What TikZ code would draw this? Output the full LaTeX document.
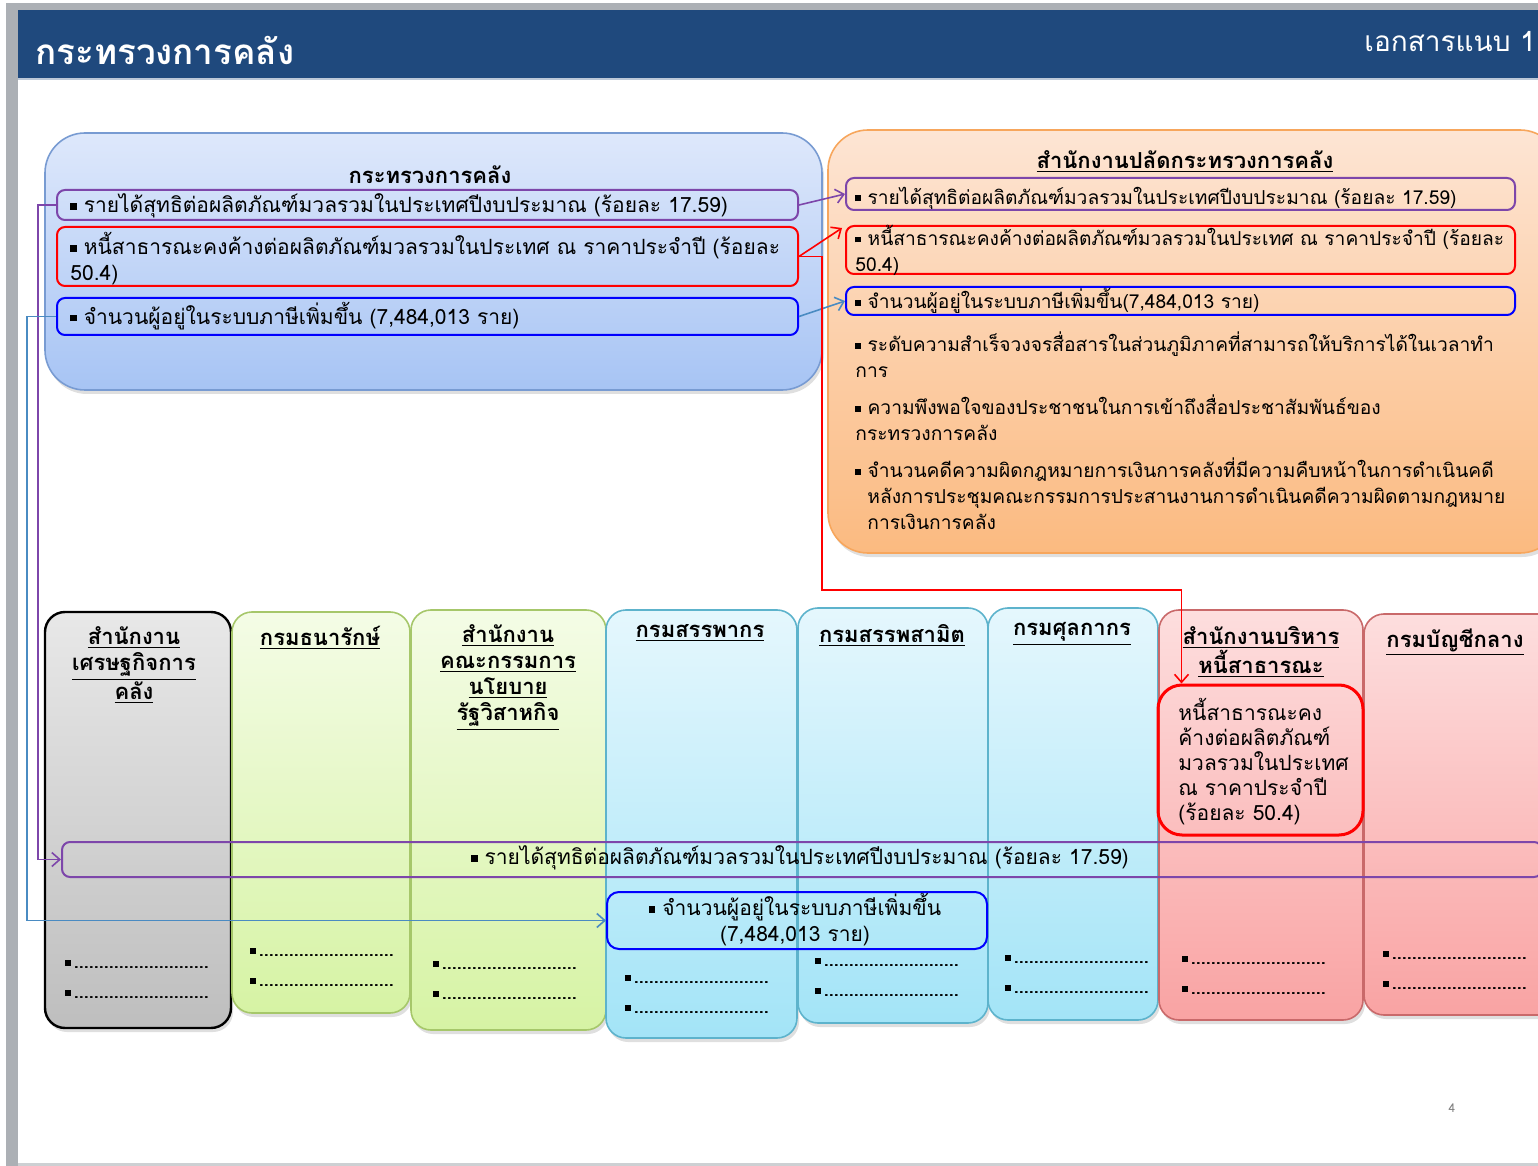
\documentclass[tikz,border=0pt]{standalone}
\usepackage{fontspec}
\setmainfont{Loma}[Script=Thai]
\usepackage{tikz}
\usetikzlibrary{positioning}
\usetikzlibrary{fit}
\usetikzlibrary{calc}
\usetikzlibrary{shadows}
\usetikzlibrary{arrows.meta}

\definecolor{hdrblue}{RGB}{31,73,125}
\definecolor{edgegrey}{RGB}{172,176,181}
\definecolor{purp}{RGB}{125,70,170}
\definecolor{linkblue}{RGB}{74,139,194}
\definecolor{mofborder}{RGB}{120,155,210}
\definecolor{moftop}{RGB}{222,232,251}
\definecolor{mofbot}{RGB}{167,196,244}
\definecolor{opsborder}{RGB}{247,166,92}
\definecolor{opstop}{RGB}{253,229,212}
\definecolor{opsbot}{RGB}{251,186,128}
\definecolor{greytop}{RGB}{232,232,232}
\definecolor{greybot}{RGB}{190,190,190}
\definecolor{greentop}{RGB}{244,252,230}
\definecolor{greenbot}{RGB}{214,243,164}
\definecolor{greenborder}{RGB}{166,199,106}
\definecolor{cyantop}{RGB}{229,247,253}
\definecolor{cyanbot}{RGB}{163,228,247}
\definecolor{cyanborder}{RGB}{93,179,204}
\definecolor{pinktop}{RGB}{253,222,222}
\definecolor{pinkbot}{RGB}{249,163,163}
\definecolor{pinkborder}{RGB}{201,105,106}

\tikzset{panel/.style = {inner sep=0, rounded corners=20pt, line width=0.8pt,
                         drop shadow={opacity=0.25, shadow xshift=1pt, shadow yshift=-2pt}}}
\tikzset{column/.style = {inner sep=0, rounded corners=10pt, line width=0.8pt,
                          drop shadow={opacity=0.25, shadow xshift=1pt, shadow yshift=-2pt}}}
\tikzset{item/.style = {inner sep=0, rounded corners=4pt, line width=1pt}}
\tikzset{txt/.style = {anchor=west, inner sep=0, align=left,
                       font=\fontsize{10.5}{13}\selectfont}}
\tikzset{optxt/.style = {txt, font=\fontsize{9.6}{13}\selectfont}}
\tikzset{head/.style = {anchor=north, inner sep=0, align=center,
                        font=\bfseries\fontsize{11}{13}\selectfont}}
\tikzset{dots/.style = {anchor=north west, inner sep=0, align=left,
                        font=\bfseries\fontsize{9}{15}\selectfont}}
\tikzset{link/.style = {line width=0.8pt, -{Straight Barb[length=4pt, width=7pt]}}}

\newcommand{\sqbul}{\rule[0.15em]{0.3em}{0.3em}}
\newcommand{\dotrow}{\sqbul\,...........................}

\begin{document}
\begin{tikzpicture}[x=0.5pt, y=-0.5pt]
  \useasboundingbox (0,0) rectangle (1538,1166);

  % page frame and title bar
  \fill[edgegrey] (6,3) rectangle (1538,10);
  \fill[edgegrey] (6,3) rectangle (18,1166);
  \fill[edgegrey!60] (18,1163) rectangle (1538,1166);
  \fill[hdrblue] (18,10) rectangle (1538,78);
  \fill[hdrblue!30] (18,78) rectangle (1538,80);
  \node [anchor=west, inner sep=0, text=white, font=\bfseries\fontsize{17.5}{17.5}\selectfont]
        (title) at (35,50) {กระทรวงการคลัง};
  \node [anchor=east, inner sep=0, text=white, font=\fontsize{14}{14}\selectfont]
        (annex) at (1536,42) {เอกสารแนบ 1};

  % ministry panel
  \node [panel, draw=mofborder, top color=moftop, bottom color=mofbot,
         fit={(45,133) (822,390)}] (mof) {};
  \node [head] (mofhead) at (430,165) {กระทรวงการคลัง};
  \node [item, draw=purp, fit={(57,190) (798,220)}] (lp) {};
  \node [txt] at (70,206) {\sqbul\ รายได้สุทธิต่อผลิตภัณฑ์มวลรวมในประเทศปีงบประมาณ (ร้อยละ 17.59)};
  \node [item, draw=red, fit={(57,227) (798,286)}] (lr) {};
  \node [txt] at (70,259) {\sqbul\ หนี้สาธารณะคงค้างต่อผลิตภัณฑ์มวลรวมในประเทศ ณ ราคาประจำปี (ร้อยละ\\50.4)};
  \node [item, draw=blue, fit={(57,298) (798,335)}] (lb) {};
  \node [txt] at (70,316) {\sqbul\ จำนวนผู้อยู่ในระบบภาษีเพิ่มขึ้น (7,484,013 ราย)};

  % permanent secretary panel
  \node [panel, draw=opsborder, top color=opstop, bottom color=opsbot,
         fit={(828,130) (1560,553)}] (ops) {};
  \node [head] (opshead) at (1185,150) {\underline{สำนักงานปลัดกระทรวงการคลัง}};
  \node [item, draw=purp, fit={(846,178) (1515,210)}] (rp) {};
  \node [optxt] at (855,198) {\sqbul\ รายได้สุทธิต่อผลิตภัณฑ์มวลรวมในประเทศปีงบประมาณ (ร้อยละ 17.59)};
  \node [item, draw=red, fit={(846,226) (1515,274)}] (rr) {};
  \node [optxt] at (855,250) {\sqbul\ หนี้สาธารณะคงค้างต่อผลิตภัณฑ์มวลรวมในประเทศ ณ ราคาประจำปี (ร้อยละ\\50.4)};
  \node [item, draw=blue, fit={(846,287) (1515,315)}] (rb) {};
  \node [optxt] at (855,301) {\sqbul\ จำนวนผู้อยู่ในระบบภาษีเพิ่มขึ้น(7,484,013 ราย)};
  \node [optxt] (kpi4) at (855,355) {\sqbul\ ระดับความสำเร็จวงจรสื่อสารในส่วนภูมิภาคที่สามารถให้บริการได้ในเวลาทำ\\การ};
  \node [optxt] (kpi5) at (855,418) {\sqbul\ ความพึงพอใจของประชาชนในการเข้าถึงสื่อประชาสัมพันธ์ของ\\กระทรวงการคลัง};
  \node [optxt] (kpi6) at (855,494) {\sqbul\ จำนวนคดีความผิดกฎหมายการเงินการคลังที่มีความคืบหน้าในการดำเนินคดี\\
        \hspace{6pt}หลังการประชุมคณะกรรมการประสานงานการดำเนินคดีความผิดตามกฎหมาย\\
        \hspace{6pt}การเงินการคลัง};

  % departments
  \node [column, draw=black, line width=1.2pt, top color=greytop, bottom color=greybot,
         fit={(45,612) (231,1028)}] (c1) {};
  \node [column, draw=greenborder, top color=greentop, bottom color=greenbot,
         fit={(232,612) (410,1013)}] (c2) {};
  \node [column, draw=greenborder, top color=greentop, bottom color=greenbot,
         fit={(411,610) (606,1030)}] (c3) {};
  \node [column, draw=cyanborder, top color=cyantop, bottom color=cyanbot,
         fit={(606,610) (797,1038)}] (c4) {};
  \node [column, draw=cyanborder, top color=cyantop, bottom color=cyanbot,
         fit={(798,608) (988,1023)}] (c5) {};
  \node [column, draw=cyanborder, top color=cyantop, bottom color=cyanbot,
         fit={(988,608) (1158,1020)}] (c6) {};
  \node [column, draw=pinkborder, top color=pinktop, bottom color=pinkbot,
         fit={(1159,610) (1363,1020)}] (c7) {};
  \node [column, draw=pinkborder, top color=pinktop, bottom color=pinkbot,
         fit={(1364,614) (1560,1015)}] (c8) {};

  \node [head] at (134,626) {\underline{สำนักงาน}\\\underline{เศรษฐกิจการ}\\\underline{คลัง}};
  \node [head] at (320,626) {\underline{กรมธนารักษ์}};
  \node [head] at (508,624) {\underline{สำนักงาน}\\\underline{คณะกรรมการ}\\\underline{นโยบาย}\\\underline{รัฐวิสาหกิจ}};
  \node [head] at (700,624) {\underline{กรมสรรพากร}};
  \node [head] at (892,624) {\underline{กรมสรรพสามิต}};
  \node [head] at (1072,622) {\underline{กรมศุลกากร}};
  \node [head] at (1261,626) {\underline{สำนักงานบริหาร}\\\underline{หนี้สาธารณะ}};
  \node [head] at (1455,628) {\underline{กรมบัญชีกลาง}};

  \node [item, draw=red, line width=1.5pt, rounded corners=12pt,
         fit={(1158,685) (1363,835)}] (hb) {};
  \node [anchor=north west, inner sep=0, align=left, font=\fontsize{10.5}{12.5}\selectfont]
        at (1178,698) {หนี้สาธารณะคง\\ค้างต่อผลิตภัณฑ์\\มวลรวมในประเทศ\\ณ ราคาประจำปี\\(ร้อยละ 50.4)};

  % shared indicators
  \node [item, draw=purp, fit={(62,842) (1542,877)}] (bp) {};
  \node [txt, anchor=center] at (800,858) {\sqbul\ รายได้สุทธิต่อผลิตภัณฑ์มวลรวมในประเทศปีงบประมาณ (ร้อยละ 17.59)};
  \node [item, draw=blue, rounded corners=6pt, fit={(607,892) (987,949)}] (bb) {};
  \node [txt, anchor=center, align=center] at (795,920) {\sqbul\ จำนวนผู้อยู่ในระบบภาษีเพิ่มขึ้น\\(7,484,013 ราย)};

  \node [dots] (d1) at (65,960) {\dotrow\\\dotrow};
  \node [dots] (d2) at (250,948) {\dotrow\\\dotrow};
  \node [dots] (d3) at (433,961) {\dotrow\\\dotrow};
  \node [dots] (d4) at (625,975) {\dotrow\\\dotrow};
  \node [dots] (d5) at (815,958) {\dotrow\\\dotrow};
  \node [dots] (d6) at (1005,955) {\dotrow\\\dotrow};
  \node [dots] (d7) at (1182,956) {\dotrow\\\dotrow};
  \node [dots] (d8) at (1383,951) {\dotrow\\\dotrow};

  \node [text=gray, font=\fontsize{6}{6}\selectfont] (pageno) at (1452,1108) {4};

  % links between the panels
  \coordinate (rbend) at (822,590);
  \coordinate (pbend) at (38,0);
  \coordinate (bbend) at (27,0);
  \draw [link, purp] (lp.east) -- (rp.west);
  \draw [link, red] (lr.east) -- ($(rr.north west)+(-3,3)$);
  \draw [link, linkblue] (lb.east) -- (rb.west);
  \draw [link, red] (lr.east) -| (rbend) -| ($(hb.north west)+(25,0)$);
  \draw [link, purp] (lp.west) -| (bp.west -| pbend) -- (bp.west);
  \draw [link, linkblue] (lb.west) -| (bb.west -| bbend) -- (bb.west);
\end{tikzpicture}
\end{document}
